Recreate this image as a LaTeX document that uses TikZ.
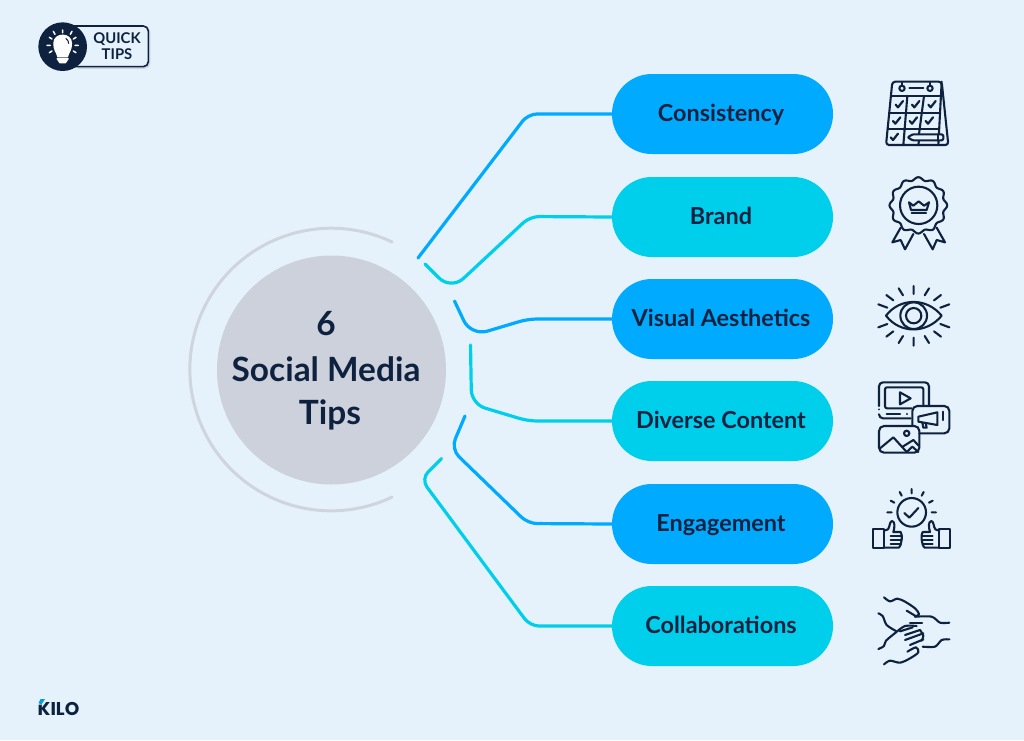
\documentclass[tikz,border=0pt]{standalone}
\usepackage{fontspec}
\setmainfont{Lato}[BoldFont={Lato Bold}]
\newfontfamily\logofont{Poppins}[BoldFont={Poppins Bold}]
\definecolor{bgc}{HTML}{E5F2FB}
\definecolor{navy}{HTML}{0E2240}
\definecolor{bluec}{HTML}{00AAFF}
\definecolor{cyanc}{HTML}{00CFEB}
\definecolor{greyc}{HTML}{CDD1DB}
\definecolor{ringc}{HTML}{CFD5DF}
\tikzset{
  pill/.style={rectangle,rounded corners=39.9pt,minimum width=221pt,minimum height=80pt,inner sep=0pt,text=navy,text height=20pt,text depth=5pt,font=\fontsize{23.4}{26}\selectfont\bfseries},
  linkblue/.style={draw=bluec,line width=3.2pt,line cap=round},
  linkcyan/.style={draw=cyanc,line width=3.2pt,line cap=round},
  headline/.style={text=navy,font=\fontsize{33.4}{36}\selectfont\bfseries},
  ico/.style={draw=navy,line width=2.1pt,line cap=round,line join=round},
  bulb/.style={draw=white,line width=1.5pt,line cap=round,line join=round},
  zoomed/.style={x=0.33333pt,y=-0.33333pt}
}
\newcommand{\chkmark}[2]{\draw[ico,line width=2.2pt] (#1-11,#2+1) -- (#1-4,#2+9) -- (#1+11,#2-10);}
\newcommand{\thumbicon}{%
  \draw[ico] (40,177) rectangle (72,233);
  \draw[ico] (72,182) -- (84,178) .. controls (90,170) and (88,155) .. (96,153) .. controls (106,155) and (104,172) .. (100,186) -- (122,186) .. controls (128,192) and (126,226) .. (116,233) -- (72,233);
  \draw[ico] (92,198) -- (124,198) (92,210) -- (124,210) (92,222) -- (120,222);
}
\begin{document}
\begin{tikzpicture}[x=1pt,y=-1pt]
\useasboundingbox (0,0) rectangle (1024,740);
\fill[bgc] (0,0) rectangle (1024,740);

% centre
\draw[ringc,line width=3pt,line cap=round] (392,242) arc[start angle=-64.5,end angle=-295.5,radius=141.3];
\node[circle,fill=greyc,minimum size=229pt,inner sep=0pt] (hub) at (331.5,370) {};
\node[headline] (h1) at (326,323.5) {6};
\node[headline] (h2) at (326,369) {Social Media};
\node[headline] (h3) at (330,415) {Tips};

% pills
\node[pill,fill=bluec] (p1) at (722.5,114) {Consistency\kern3pt};
\node[pill,fill=cyanc] (p2) at (722.5,217) {Brand\kern3pt};
\node[pill,fill=bluec] (p3) at (722.5,319) {Visual Aesthetics\kern3pt};
\node[pill,fill=cyanc] (p4) at (722.5,421) {Diverse Content\kern3pt};
\node[pill,fill=bluec] (p5) at (722.5,524) {Engagement\kern3pt};
\node[pill,fill=cyanc] (p6) at (722.5,626) {Collaborations\kern3pt};

% connector free ends
\coordinate (s1) at (418,258);
\coordinate (s2) at (425,264);
\coordinate (s3) at (454.5,301);
\coordinate (s4) at (470.5,345);
\coordinate (s5) at (465,416);
\coordinate (s6) at (441.5,458.5);

\draw[linkblue] (s1) [rounded corners=9pt] -- (528,114) -- (p1.west);
\draw[linkcyan] (s2) [rounded corners=17pt] -- (451,290) [rounded corners=9pt] -- (530,216.5) -- (p2.west);
\draw[linkblue] (s3) [rounded corners=17pt] -- (471,336) [rounded corners=9pt] -- (528,319) -- (p3.west);
\draw[linkcyan] (s4) [rounded corners=14pt] -- (471.5,404) [rounded corners=9pt] -- (528,421) -- (p4.west);
\draw[linkblue] (s5) [rounded corners=11pt] -- (451,449) [rounded corners=9pt] -- (528,523.5) -- (p5.west);
\draw[linkcyan] (s6) [rounded corners=10pt] -- (421,479) [rounded corners=9pt] -- (530,626) -- (p6.west);

% calendar
\begin{scope}[shift={(860,60)},zoomed]
  \draw[ico,rounded corners=3pt] (78,255) -- (97,65) -- (245,65) -- (265,255) -- cycle;
  \draw[ico] (245,65) -- (235,255);
  \draw[ico] (93,108) -- (240,108) (88,158) -- (238,158) (83,207) -- (236,207);
  \draw[ico] (142,108) -- (130,255) (192,108) -- (177,222) (177,240) -- (175,255);
  \draw[ico,fill=bgc] (126,85) circle[radius=8] (210,85) circle[radius=8];
  \draw[ico] (126,68) -- (126,77) (210,68) -- (210,77) (148,85) -- (190,85);
  \chkmark{118}{133}\chkmark{167}{133}\chkmark{216}{133}
  \chkmark{110}{182}\chkmark{160}{182}\chkmark{208}{182}
  \chkmark{103}{231}
  \draw[ico,fill=bgc,rounded corners=1pt] (143,232) -- (158,223) -- (248,223) -- (251,232) -- (248,241) -- (158,241) -- cycle;
  \draw[ico] (235,223) -- (235,241);
\end{scope}

% badge
\begin{scope}[shift={(860,60)},zoomed]
  \draw[ico,fill=bgc] (122,503) -- (97,547) -- (122,540) -- (135,568) -- (160,522);
  \draw[ico,fill=bgc] (230,503) -- (255,547) -- (230,540) -- (218,568) -- (192,522);
  \draw[ico,fill=bgc] plot[domain=0:360,samples=145,smooth] ({175+82*cos(\x)+4.5*cos(12*\x)*cos(\x)},{436+80*sin(\x)+4.5*cos(12*\x)*sin(\x)}) -- cycle;
  \draw[ico] (176,436) circle[radius=56];
  \draw[ico] (147,427) -- (160,437) -- (176,424) -- (192,437) -- (207,427) -- (200,450) -- (153,450) -- cycle;
  \draw[ico] (155,460) -- (198,460);
\end{scope}

% eye
\begin{scope}[shift={(860,270)},zoomed]
  \draw[ico] (78,137) .. controls (120,82) and (200,82) .. (245,137) .. controls (200,192) and (120,192) .. (78,137) -- cycle;
  \draw[ico] (161,137) circle[radius=40];
  \draw[ico] (161,137) circle[radius=23];
  \draw[ico] (161,48) -- (161,72) (161,203) -- (161,227)
    (116,55) -- (129,76) (207,55) -- (194,76)
    (116,219) -- (129,198) (207,219) -- (194,198)
    (79,75) -- (100,91) (243,75) -- (222,91)
    (79,200) -- (100,184) (243,200) -- (222,184)
    (55,103) -- (82,113) (268,103) -- (241,113)
    (55,172) -- (82,162) (268,172) -- (241,162);
\end{scope}

% media
\begin{scope}[shift={(860,270)},zoomed]
  \draw[ico,rounded corners=4pt] (57,408) -- (57,337) -- (207,337) -- (207,405);
  \draw[ico] (57,418) -- (57,418.1);
  \draw[ico,rounded corners=4pt] (57,433) -- (57,445) -- (152,445);
  \draw[ico,rounded corners=2pt] (190,408) -- (190,352) -- (75,352) -- (75,415) -- (155,415);
  \draw[ico] (80,432) -- (120,432) (142,432) -- (142,432.1);
  \draw[ico] (120,367) -- (152,385) -- (120,403) -- cycle;
  \draw[ico,rounded corners=5pt] (157,465) -- (157,408) -- (268,408) -- (268,490) -- (178,490);
  \draw[ico,rounded corners=5pt] (178,490) -- (178,468) -- (57,468) -- (57,548) -- (178,548) -- (178,490);
  \draw[ico] (140,490) circle[radius=8];
  \draw[ico] (60,535) -- (100,502) -- (140,546) (128,530) -- (160,510) -- (177,528) (140,546) -- (157,530) -- (175,546);
  \draw[ico] (175,440) -- (232,427) -- (232,465) -- (175,455) -- cycle;
  \draw[ico] (187,458) -- (190,473) -- (200,473) -- (197,460);
  \draw[ico] (250,425) -- (250,450);
\end{scope}

% thumbs
\begin{scope}[shift={(860,470)},zoomed]
  \draw[ico] (155,127) circle[radius=43];
  \draw[ico] (133,129) -- (148,143) -- (175,114);
  \draw[ico] (155,57) -- (155,70)
    (119,66) -- (125,77) (191,66) -- (185,77)
    (92,92) -- (103,98) (218,92) -- (207,98)
    (82,127) -- (95,127) (215,127) -- (228,127);
  \thumbicon
  \begin{scope}[shift={(310,0)},xscale=-1]
    \thumbicon
  \end{scope}
\end{scope}

% hands
\begin{scope}[shift={(860,470)},zoomed]
  \draw[ico] plot[smooth] coordinates {(72,382) (90,394) (112,386) (135,395) (165,415) (177,432) (165,440)};
  \draw[ico] (140,422) -- (165,437);
  \draw[ico] plot[smooth] coordinates {(165,440) (215,440) (240,458) (268,458)};
  \draw[ico] plot[smooth] coordinates {(55,430) (68,438) (80,465) (108,483)};
  \draw[ico] plot[smooth] coordinates {(108,487) (78,512) (72,528) (55,537)};
  \draw[ico] (150,460) -- (186,460);
  \draw[ico] plot[smooth] coordinates {(108,487) (135,468) (170,468)};
  \draw[ico] (120,484) -- (158,472) (135,495) -- (180,480) (135,510) -- (190,490) (150,525) -- (190,508);
  \draw[ico] plot[smooth] coordinates {(180,480) (190,497) (185,512)};
  \draw[ico] plot[smooth] coordinates {(188,530) (225,530) (245,510) (268,508)};
  \draw[ico] plot[smooth] coordinates {(72,583) (90,572) (120,578) (150,565) (175,547) (168,532) (142,545)};
\end{scope}

% quick tips badge
\begin{scope}[zoomed]
  \draw[ringc,line width=1.5pt,rounded corners=5pt] (233,82) -- (449,82) -- (449,204) -- (233,204);
  \draw[navy,fill=bgc,line width=1.6pt,rounded corners=5pt] (200,78) rectangle (445,200);
  \fill[navy] (188,140) circle[radius=73];
  \draw[bulb,fill=white] (174,170) .. controls (170,155) and (162,150) .. (162,130) .. controls (162,98) and (214,98) .. (214,130) .. controls (214,150) and (206,155) .. (202,170) -- cycle;
  \draw[navy,line width=1pt] (197,115) .. controls (204,119) and (206,125) .. (206,131);
  \draw[bulb,fill=white] (172,176) -- (204,176) -- (196,188) -- (180,188) -- cycle;
  \draw[bulb] (188,90) -- (188,98) (160,94) -- (165,103) (216,94) -- (211,103)
    (148,112) -- (156,117) (228,112) -- (220,117) (141,136) -- (151,136) (225,136) -- (235,136)
    (148,158) -- (156,153) (228,158) -- (220,153);
\end{scope}
\node[text=navy,font=\fontsize{14.8}{16}\selectfont\bfseries] (q1) at (117,39.5) {QUICK};
\node[text=navy,font=\fontsize{14.8}{16}\selectfont\bfseries] (q2) at (117,54.5) {TIPS};

% logo
\node[text=navy,font=\logofont\fontsize{18.5}{19}\selectfont\bfseries,inner sep=0pt] (logo) at (58.5,708.5) {KILO};
\fill[bgc] (38,697) -- (48,697) -- (43.5,704.5) -- (38,704.5) -- cycle;
\fill[cyan!60!bluec] (40.5,699) -- (45,699) -- (41.5,704.5) -- (38.5,703) -- cycle;
\end{tikzpicture}
\end{document}
